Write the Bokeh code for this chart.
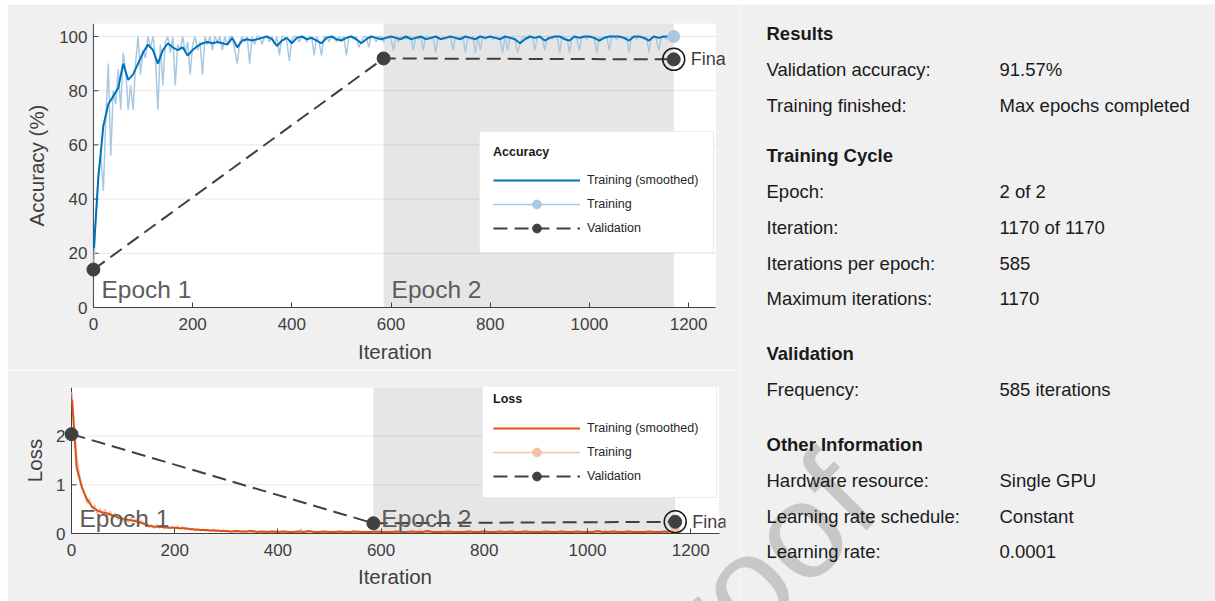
from bokeh.core.properties import value
from bokeh.embed import file_html
from bokeh.layouts import column, row
from bokeh.models import Div, FixedTicker, Legend, LegendItem, Range1d
from bokeh.plotting import figure
from bokeh.resources import INLINE

FONT = "Liberation Sans"
PANEL_BG = "#f0f0f0"
INK = "#404040"

# ------------------------------------------------------------------ data
iters_per_epoch = 585
max_iters = 1170
epoch_starts = [0, 585]
epoch_names = ["Epoch 1", "Epoch 2"]

raw_iter = [1] + list(range(5, max_iters + 1, 5))
smooth_iter = [1] + list(range(10, max_iters + 1, 10))

acc_raw = [
    16, 33, 50, 56, 43, 70, 90, 56, 80, 75, 88, 73, 94, 88, 73, 82, 73, 90, 100, 86, 95,
    92, 100, 96, 100, 92, 73, 97, 82, 98, 100, 94, 100, 82, 97, 95, 100, 94, 98, 86, 97,
    100, 95, 98, 86, 100, 97, 100, 95, 100, 98, 100, 95, 100, 97, 100, 100, 95, 90, 98, 100,
    98, 100, 90, 100, 97, 100, 100, 97, 100, 100, 98, 100, 97, 100, 93, 100, 100, 98, 91, 99,
    100, 100, 98, 100, 100, 98, 100, 100, 93, 100, 98, 93, 100, 100, 98, 100, 100, 98, 100, 99,
    100, 93, 100, 100, 99, 100, 96, 98, 100, 100, 96, 100, 100, 98, 100, 100, 98, 100, 100, 99,
    95, 100, 98, 100, 100, 99, 100, 100, 95, 100, 99, 100, 95, 100, 100, 99, 100, 94, 100, 99,
    100, 99, 100, 100, 95, 100, 99, 100, 100, 94, 100, 99, 100, 94, 100, 95, 100, 99, 100, 100,
    99, 100, 100, 99, 94, 100, 95, 100, 100, 99, 94, 97, 100, 100, 99, 100, 100, 95, 100, 100,
    99, 95, 100, 100, 99, 100, 100, 94, 100, 100, 99, 94, 100, 100, 99, 95, 100, 100, 99, 100,
    100, 99, 94, 100, 99, 100, 100, 95, 100, 100, 99, 100, 100, 99, 100, 94, 100, 100, 99, 100,
    100, 99, 100, 94, 100, 100, 99, 95, 100, 100, 99, 100, 100, 100,
]
acc_smooth = [
    22,
    48, 67, 75, 78, 81, 90, 84, 86, 90, 94,
    97, 95, 90, 95, 97.5, 96, 95, 96, 93, 95,
    96.5, 97.5, 98, 97.5, 98, 97.5, 97, 99.5, 96, 98.5,
    99, 98.5, 99, 99.5, 100, 99, 96.5, 98.5, 99.5, 97.5,
    99.5, 100, 99, 99.5, 98.5, 97.5, 99.5, 100, 99, 98.5,
    99.5, 100, 99, 97.5, 99, 100, 99.5, 99, 99.5, 100,
    99.5, 99, 100, 99, 99.5, 100, 99, 99.5, 100, 99,
    99.5, 100, 99.5, 99, 100, 99.5, 99, 100, 99.5, 100,
    99.5, 99, 100, 99.5, 99, 97.5, 99, 100, 99.5, 100,
    98.5, 99.5, 100, 100, 99, 98.5, 100, 99.5, 100, 100,
    99.5, 98.5, 99.5, 100, 100, 100, 99.5, 98.5, 100, 100,
    99.5, 98.5, 100, 99.5, 100, 100, 100,
]
loss_raw = [
    2.90, 2.30, 1.60, 1.25, 0.98, 0.80, 0.62, 0.72, 0.50, 0.58, 0.40, 0.52, 0.38, 0.50, 0.35, 0.46, 0.30, 0.42, 0.28, 0.36, 0.25,
    0.35, 0.22, 0.33, 0.24, 0.30, 0.18, 0.28, 0.20, 0.22, 0.12, 0.18, 0.10, 0.20, 0.11, 0.17, 0.09, 0.16, 0.10, 0.15, 0.09,
    0.16, 0.08, 0.14, 0.07, 0.12, 0.06, 0.11, 0.05, 0.10, 0.05, 0.09, 0.04, 0.08, 0.04, 0.09, 0.03, 0.07, 0.03, 0.08, 0.03,
    0.06, 0.02, 0.07, 0.03, 0.06, 0.02, 0.05, 0.03, 0.07, 0.02, 0.05, 0.02, 0.06, 0.03, 0.05, 0.02, 0.06, 0.02, 0.05, 0.02,
    0.05, 0.02, 0.06, 0.02, 0.04, 0.02, 0.05, 0.03, 0.09, 0.02, 0.04, 0.02, 0.05, 0.02, 0.04, 0.02, 0.05, 0.02, 0.04, 0.02,
    0.05, 0.02, 0.04, 0.02, 0.05, 0.02, 0.04, 0.02, 0.06, 0.02, 0.04, 0.02, 0.05, 0.02, 0.04, 0.02, 0.05, 0.02, 0.04, 0.02,
    0.04, 0.02, 0.05, 0.02, 0.04, 0.01, 0.06, 0.02, 0.04, 0.02, 0.05, 0.02, 0.04, 0.02, 0.08, 0.02, 0.04, 0.02, 0.05, 0.02,
    0.04, 0.01, 0.05, 0.02, 0.04, 0.02, 0.05, 0.01, 0.04, 0.02, 0.05, 0.02, 0.04, 0.01, 0.05, 0.02, 0.04, 0.02, 0.06, 0.01,
    0.04, 0.02, 0.05, 0.01, 0.04, 0.02, 0.05, 0.02, 0.04, 0.01, 0.07, 0.02, 0.04, 0.02, 0.05, 0.01, 0.04, 0.02, 0.05, 0.02,
    0.04, 0.01, 0.05, 0.02, 0.04, 0.02, 0.05, 0.01, 0.04, 0.02, 0.05, 0.02, 0.04, 0.01, 0.05, 0.02, 0.04, 0.02, 0.05, 0.01,
    0.04, 0.02, 0.05, 0.02, 0.04, 0.01, 0.08, 0.02, 0.04, 0.02, 0.05, 0.01, 0.04, 0.02, 0.05, 0.02, 0.04, 0.01, 0.05, 0.02,
    0.04, 0.02, 0.05, 0.01, 0.04, 0.02, 0.05, 0.02, 0.04, 0.01, 0.05, 0.02, 0.04, 0.01,
]
loss_smooth = [
    2.75,
    1.35, 0.95, 0.70, 0.55, 0.47, 0.43, 0.41, 0.37, 0.33, 0.30,
    0.28, 0.26, 0.24, 0.20, 0.16, 0.14, 0.14, 0.13, 0.12, 0.12,
    0.11, 0.11, 0.09, 0.08, 0.07, 0.07, 0.06, 0.06, 0.05, 0.05,
    0.04, 0.05, 0.04, 0.04, 0.05, 0.03, 0.04, 0.03, 0.04, 0.03,
    0.04, 0.03, 0.03, 0.04, 0.03, 0.05, 0.03, 0.03, 0.04, 0.03,
    0.03, 0.04, 0.03, 0.03, 0.04, 0.03, 0.03, 0.03, 0.04, 0.03,
    0.03, 0.03, 0.04, 0.03, 0.03, 0.04, 0.03, 0.03, 0.05, 0.03,
    0.03, 0.03, 0.04, 0.03, 0.03, 0.03, 0.04, 0.03, 0.03, 0.04,
    0.03, 0.03, 0.04, 0.03, 0.04, 0.03, 0.03, 0.04, 0.03, 0.03,
    0.03, 0.04, 0.03, 0.03, 0.04, 0.03, 0.03, 0.04, 0.03, 0.03,
    0.03, 0.05, 0.03, 0.03, 0.04, 0.03, 0.03, 0.04, 0.03, 0.03,
    0.03, 0.04, 0.03, 0.03, 0.04, 0.03, 0.03,
]

val_iter = [0, 585, 1170]
val_acc = [14.0, 91.9, 91.57]
val_loss = [2.04, 0.21, 0.24]

x_ticks = [0, 200, 400, 600, 800, 1000, 1200]
acc_ticks = [0, 20, 40, 60, 80, 100]
loss_ticks = [0, 1, 2]
x_limit = 1255  # right end of the white axes area

info_sections = [
    ("Results", [("Validation accuracy:", "91.57%"),
                 ("Training finished:", "Max epochs completed")]),
    ("Training Cycle", [("Epoch:", "2 of 2"),
                        ("Iteration:", "1170 of 1170"),
                        ("Iterations per epoch:", "585"),
                        ("Maximum iterations:", "1170")]),
    ("Validation", [("Frequency:", "585 iterations")]),
    ("Other Information", [("Hardware resource:", "Single GPU"),
                           ("Learning rate schedule:", "Constant"),
                           ("Learning rate:", "0.0001")]),
]

PAGE_LEFT, PAGE_TOP = 7, 4   # white strip round the panel
LEFT_W = 733
FRAME_LEFT = 57              # both panels share the same frame edge
WATERMARK = "Proof"


def training_panel(height, right, top, bottom, axis_gap, px_x, px_y, ylabel,
                   yticks, raw, smooth, val, dark, light, legend_title, legend_xy,
                   legend_pad, title_gap, label_w, epoch_lift, tick_standoff,
                   label_standoff, ytick_standoff, ylabel_standoff):
    fw = LEFT_W - FRAME_LEFT - right
    fh = height - top - bottom
    x0 = -axis_gap / px_x
    y_top = fh / px_y
    p = figure(width=LEFT_W, height=height, output_backend="svg", toolbar_location=None,
               x_range=Range1d(x0, x0 + fw / px_x), y_range=Range1d(0, y_top),
               min_border_left=FRAME_LEFT, min_border_right=right,
               min_border_top=top, min_border_bottom=bottom,
               background_fill_color=PANEL_BG, border_fill_color=PANEL_BG,
               outline_line_color=None)
    p.xgrid.visible = False
    p.ygrid.visible = False

    # axes area and the shaded second epoch
    p.quad(left=[0], right=[x_limit], bottom=[0], top=[y_top],
           fill_color="white", line_color=None, level="image")
    p.quad(left=[epoch_starts[1]], right=[epoch_starts[1] + iters_per_epoch],
           bottom=[0], top=[y_top], fill_color="#e6e6e6", line_color=None, level="image")
    grid_y = [t for t in yticks if t > 0]
    p.segment(x0=[0] * len(grid_y), y0=grid_y, x1=[x_limit] * len(grid_y), y1=grid_y,
              line_color="black", line_alpha=0.09, line_width=1, level="underlay")
    # y axis rule at iteration zero, ticks pointing inwards
    tick_len = 5 / px_x
    p.segment(x0=[0], y0=[0], x1=[0], y1=[y_top], line_color=INK, line_width=1)
    p.segment(x0=[0] * len(yticks), y0=yticks, x1=[tick_len] * len(yticks), y1=yticks,
              line_color=INK, line_width=1)

    raw_r = p.line(raw_iter, raw, line_color=light, line_width=1.5)
    smooth_r = p.line(smooth_iter, smooth, line_color=dark, line_width=2)
    end_r = p.scatter([raw_iter[-1]], [raw[-1]], size=12, fill_color=light, line_color=light)
    val_line = p.line(val_iter, val, line_color=INK, line_width=2, line_dash="14 7")
    val_pts = p.scatter(val_iter, val, size=13, fill_color=INK, line_color=INK)
    p.scatter([val_iter[-1]], [val[-1]], size=22, fill_color=None,
              line_color="#1a1a1a", line_width=1.5)

    lift = epoch_lift / px_y
    p.text(x=epoch_starts, y=[lift, lift], text=epoch_names, x_offset=8,
           text_font=value(FONT), text_font_size="24.5px", text_color="#5c5c5c",
           text_baseline="alphabetic")
    p.text(x=[val_iter[-1]], y=[val[-1]], text=["Final"], x_offset=17,
           text_font=value(FONT), text_font_size="18px", text_color=INK,
           text_baseline="middle")

    p.xaxis.ticker = FixedTicker(ticks=x_ticks)
    p.xaxis.bounds = (0, x_limit)
    p.yaxis.ticker = FixedTicker(ticks=yticks)
    p.xaxis.axis_label = "Iteration"
    p.yaxis.axis_label = ylabel
    for ax in (p.xaxis, p.yaxis):
        ax.axis_line_color = INK
        ax.axis_line_width = 1
        ax.major_tick_line_color = INK
        ax.major_tick_in = 5
        ax.major_tick_out = 0
        ax.minor_tick_line_color = None
        ax.major_label_text_font = FONT
        ax.major_label_text_font_size = "17px"
        ax.major_label_text_color = INK
        ax.axis_label_text_font = FONT
        ax.axis_label_text_font_size = "20.5px"
        ax.axis_label_text_font_style = "normal"
        ax.axis_label_text_color = INK
    p.yaxis.axis_line_color = None
    p.yaxis.major_tick_line_color = None
    p.xaxis.major_label_standoff = tick_standoff
    p.xaxis.axis_label_standoff = label_standoff
    p.yaxis.major_label_standoff = ytick_standoff
    p.yaxis.axis_label_standoff = ylabel_standoff

    legend = Legend(
        items=[LegendItem(label="Training (smoothed)", renderers=[smooth_r]),
               LegendItem(label="Training", renderers=[raw_r, end_r]),
               LegendItem(label="Validation", renderers=[val_line, val_pts])],
        title=legend_title, location=legend_xy, margin=0, padding=legend_pad,
        spacing=2, glyph_height=22, label_height=22, glyph_width=87,
        label_width=label_w, label_standoff=7,
        label_text_font=FONT, label_text_font_size="12.5px", label_text_color="#262626",
        title_text_font=FONT, title_text_font_size="12.5px", title_text_font_style="bold",
        title_text_color="#1a1a1a", title_standoff=title_gap,
        background_fill_color="white", background_fill_alpha=1.0,
        border_line_color="#d9d9d9", border_line_width=1)
    p.add_layout(legend, "center")
    return p


acc_fig = training_panel(
    366, 13, 19, 63, 29, 0.4975, 2.71, "Accuracy (%)", acc_ticks,
    acc_raw, acc_smooth, val_acc, "#0072bd", "#a9c9e2", "Accuracy", (415, 54),
    13, 10, 113, 18, 10, 7, -23, 8)
loss_fig = training_panel(
    231, 15, 17, 68, 7, 0.516, 48.7, "Loss", loss_ticks,
    loss_raw, loss_smooth, val_loss, "#d95319", "#f4c2ab", "Loss", (418, 35),
    10, 11, 119, 15, 10, 6, -1, 7)

# ---------------------------------------------------------------- info panel
INFO_W, INFO_H = 475, 597
info = figure(width=INFO_W, height=INFO_H, output_backend="svg", toolbar_location=None,
              x_range=Range1d(0, INFO_W), y_range=Range1d(INFO_H, 0),
              x_axis_type=None, y_axis_type=None, min_border=0,
              background_fill_color=PANEL_BG, border_fill_color=PANEL_BG,
              outline_line_color=None)
info.grid.visible = False

row_pitch = 35.8
section_gaps = [0, 50.5, 54.5, 55.4]
head_x, head_y, names, vals, rows_y = [], [], [], [], []
y = 29
for k, (head, entries) in enumerate(info_sections):
    if k:
        y += section_gaps[k]
    head_x.append(26)
    head_y.append(y)
    names.append(head)
    for name, val in entries:
        y += row_pitch
        rows_y.append(y)
        vals.append((name, val))

info.text(x=head_x, y=head_y, text=names, text_font=value(FONT), text_font_size="18.5px",
          text_font_style="bold", text_color="#1a1a1a", text_baseline="middle")
info.text(x=[26] * len(vals), y=rows_y, text=[v[0] for v in vals], text_font=value(FONT),
          text_font_size="18.5px", text_color="#1a1a1a", text_baseline="middle")
info.text(x=[259] * len(vals), y=rows_y, text=[v[1] for v in vals], text_font=value(FONT),
          text_font_size="18.5px", text_color="#1a1a1a", text_baseline="middle")

# diagonal watermark laid over both panels; anchored at its baseline start
wm_size = 136
wm_angle = 45
wm_anchor = (655, 742)
wm_base = (1 - 1.117) / 2 * wm_size + 0.905 * wm_size   # baseline below the line top
watermark = Div(
    text=WATERMARK, margin=0,
    styles={
        "position": "absolute",
        "left": f"{wm_anchor[0] - PAGE_LEFT}px",
        "top": f"{wm_anchor[1] - PAGE_TOP - wm_base:.1f}px",
        "font-family": f"'{FONT}'",
        "font-size": f"{wm_size}px",
        "line-height": f"{wm_size}px",
        "color": "rgba(0, 0, 0, 0.17)",
        "white-space": "nowrap",
        "transform": f"rotate(-{wm_angle}deg)",
        "transform-origin": f"0px {wm_base:.1f}px",
        "pointer-events": "none",
        "z-index": "10",
    })

layout = row(column(acc_fig, loss_fig, spacing=0), info, watermark, spacing=0,
             margin=(PAGE_TOP, 0, 0, PAGE_LEFT),
             styles={"position": "relative", "overflow": "hidden"})

with open("out.html", "w") as f:
    f.write(file_html(layout, INLINE))
